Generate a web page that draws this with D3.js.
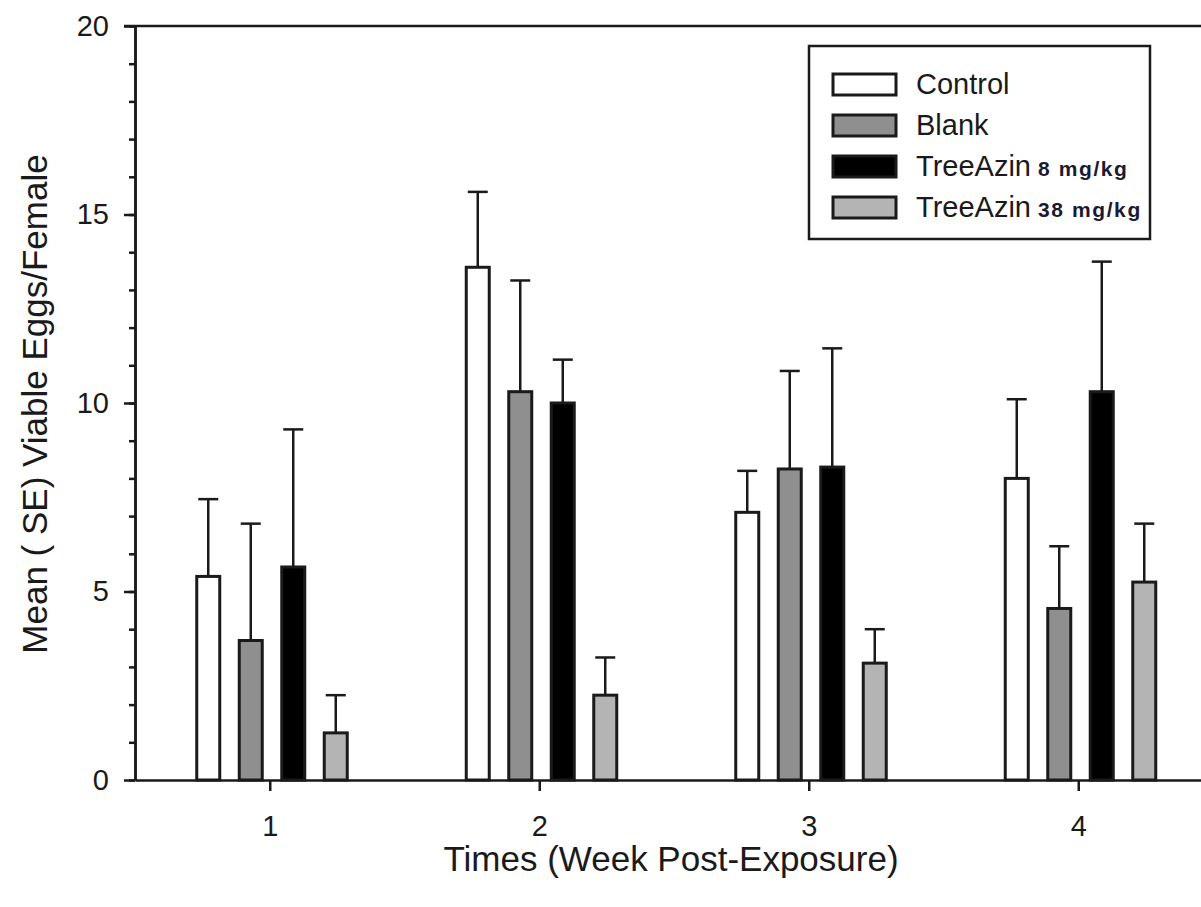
<!DOCTYPE html>
<html>
<head>
<meta charset="utf-8">
<script src="https://cdn.jsdelivr.net/npm/d3@7"></script>
<style>
	body { margin: 0; background: #fff; }
	text { font-family: "Liberation Sans", Arial, sans-serif; fill: #1a1a1a; }
</style>
</head>
<body>
<svg id="chart" width="1201" height="907"></svg>
<script>
// weeks post-exposure
var weeks = [1, 2, 3, 4];
var seriesNames = ["Control", "Blank", "TreeAzin 8", "TreeAzin 38"];
var legendMain = ["Control", "Blank", "TreeAzin", "TreeAzin"];
var legendDose = ["", "", "8 mg/kg", "38 mg/kg"];
var fills = ["#ffffff", "#8f8f8f", "#000000", "#b4b4b4"];

// mean viable eggs per female, one array per treatment
var controlMean = [5.4, 13.6, 7.1, 8.0];
var blankMean = [3.7, 10.3, 8.25, 4.55];
var tree8Mean = [5.65, 10.0, 8.3, 10.3];
var tree38Mean = [1.25, 2.25, 3.1, 5.25];

// standard errors (upper whisker only)
var controlSE = [2.05, 2.0, 1.1, 2.1];
var blankSE = [3.1, 2.95, 2.6, 1.65];
var tree8SE = [3.65, 1.15, 3.15, 3.45];
var tree38SE = [1.0, 1.0, 0.9, 1.55];

var yTicks = [0, 5, 10, 15, 20];
var yMinorTicks = d3.range(0, 21, 1);

var means = [controlMean, blankMean, tree8Mean, tree38Mean];
var ses = [controlSE, blankSE, tree8SE, tree38SE];

var svg = d3.select("#chart");

var x = d3.scaleLinear()
			.domain([0.5, 4.5])
			.range([135, 1213]);
var y = d3.scaleLinear()
			.domain([0, 20])
			.range([780, 26]);
var offset = d3.scalePoint()
			.domain(seriesNames)
			.range([-61.5, 66]);
var barW = 23;

var bars = [];
for(var s = 0; s < seriesNames.length; s++)
{
	for(var w = 0; w < weeks.length; w++)
	{
		bars.push({ s: s, week: weeks[w], mean: means[s][w], se: ses[s][w] });
	}
}

// error bars first so the bar outline covers the stem base
var err = svg.append("g")
				.attr("stroke", "#1a1a1a")
				.attr("stroke-width", 2.5);
err.selectAll("line.stem").data(bars).enter()
	.append("line")
		.attr("class", "stem")
		.attr("x1", function(d) { return x(d.week) + offset(seriesNames[d.s]); })
		.attr("x2", function(d) { return x(d.week) + offset(seriesNames[d.s]); })
		.attr("y1", function(d) { return y(d.mean); })
		.attr("y2", function(d) { return y(d.mean + d.se); });
err.selectAll("line.cap").data(bars).enter()
	.append("line")
		.attr("class", "cap")
		.attr("x1", function(d) { return x(d.week) + offset(seriesNames[d.s]) - 10; })
		.attr("x2", function(d) { return x(d.week) + offset(seriesNames[d.s]) + 10; })
		.attr("y1", function(d) { return y(d.mean + d.se); })
		.attr("y2", function(d) { return y(d.mean + d.se); });

svg.append("g").selectAll("rect").data(bars).enter()
	.append("rect")
		.attr("x", function(d) { return x(d.week) + offset(seriesNames[d.s]) - barW / 2; })
		.attr("y", function(d) { return y(d.mean); })
		.attr("width", barW)
		.attr("height", function(d) { return y(0) - y(d.mean); })
		.style("fill", function(d) { return fills[d.s]; })
		.style("stroke", "#1a1a1a")
		.style("stroke-width", 3);

// y axis: major + minor ticks
svg.append("g")
	.attr("transform", "translate(" + x(0.5) + ",0)")
	.call(d3.axisLeft(y).tickValues(yTicks).tickSize(11).tickPadding(15).tickSizeOuter(0));
svg.append("g")
	.attr("transform", "translate(" + x(0.5) + ",0)")
	.call(d3.axisLeft(y).tickValues(yMinorTicks).tickSize(6).tickFormat("").tickSizeOuter(0));

svg.append("g")
	.attr("transform", "translate(0," + y(0) + ")")
	.call(d3.axisBottom(x).tickValues(weeks).tickFormat(d3.format("d")).tickSize(11).tickPadding(24).tickSizeOuter(0));

svg.selectAll(".domain, .tick line")
	.attr("stroke", "#1a1a1a")
	.attr("stroke-width", 2.5);
svg.selectAll(".tick text")
	.style("font-size", "29px")
	.style("font-family", "'Liberation Sans', Arial, sans-serif")
	.attr("fill", "#1a1a1a");

// top frame line
svg.append("line")
	.attr("x1", x(0.5) - 11).attr("x2", 1201)
	.attr("y1", y(20)).attr("y2", y(20))
	.attr("stroke", "#1a1a1a")
	.attr("stroke-width", 2.5);

svg.append("text")
	.attr("x", 671)
	.attr("y", 871)
	.attr("text-anchor", "middle")
	.style("font-size", "35px")
	.text("Times (Week Post-Exposure)");

svg.append("text")
	.attr("transform", "translate(47,404) rotate(-90)")
	.attr("text-anchor", "middle")
	.style("font-size", "35px")
	.text("Mean ( SE) Viable Eggs/Female");

// legend
var legend = svg.append("g");
legend.append("rect")
	.attr("x", 809).attr("y", 46)
	.attr("width", 341).attr("height", 193)
	.style("fill", "#fff")
	.style("stroke", "#1a1a1a")
	.style("stroke-width", 2.5);

var rows = legend.selectAll("g.row").data(seriesNames).enter()
	.append("g")
		.attr("class", "row")
		.attr("transform", function(d, i) { return "translate(0," + (84 + i * 41) + ")"; });
rows.append("rect")
	.attr("x", 833).attr("y", -10)
	.attr("width", 63).attr("height", 21)
	.style("fill", function(d, i) { return fills[i]; })
	.style("stroke", "#1a1a1a")
	.style("stroke-width", 3);
var labels = rows.append("text")
	.attr("x", 916)
	.attr("y", 10)
	.style("font-size", "29px");
labels.append("tspan")
	.text(function(d, i) { return legendMain[i]; });
labels.append("tspan")
	.attr("dx", 7)
	.style("font-size", "21px")
	.style("font-weight", "bold")
	.style("letter-spacing", "1.6px")
	.style("fill", "#1a1a30")
	.text(function(d, i) { return legendDose[i]; });
</script>
</body>
</html>
